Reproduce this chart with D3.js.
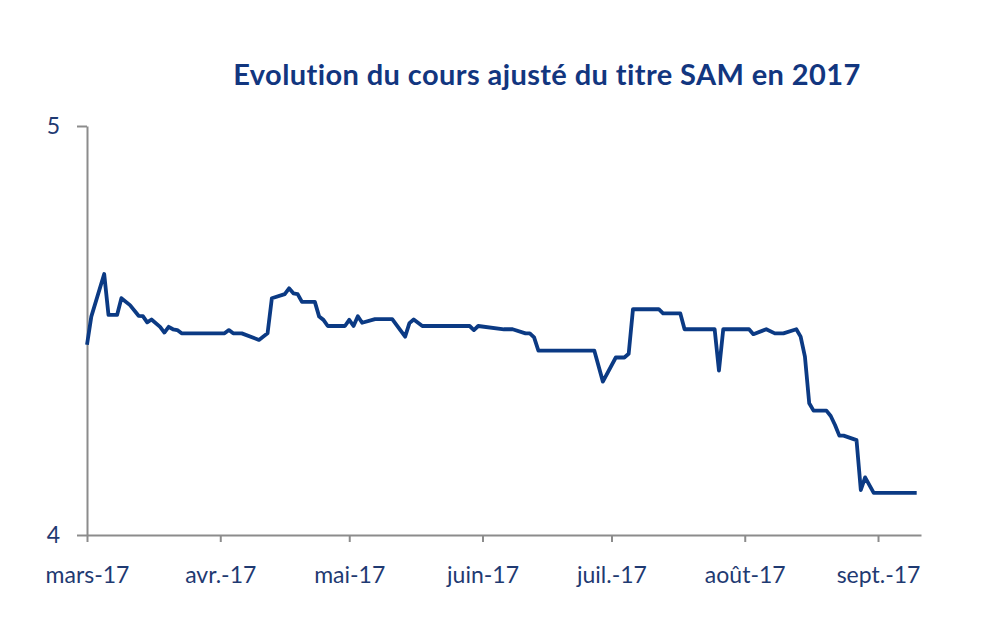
<!DOCTYPE html>
<meta charset="utf-8">
<style>
  body { margin: 0; background: #fff; }
  text { font-family: Lato, "Open Sans", sans-serif; }
</style>
<script src="https://d3js.org/d3.v7.min.js"></script>
<svg id="chart" width="985" height="633"></svg>
<script>
  // Data
  var dates = ["2017-03-01","2017-03-02","2017-03-05","2017-03-06","2017-03-08","2017-03-09","2017-03-11",
    "2017-03-13","2017-03-14","2017-03-15","2017-03-16","2017-03-18","2017-03-19","2017-03-20","2017-03-21",
    "2017-03-22","2017-03-23","2017-04-02","2017-04-03","2017-04-04","2017-04-06","2017-04-10","2017-04-12",
    "2017-04-13","2017-04-16","2017-04-17","2017-04-18","2017-04-19","2017-04-20","2017-04-23","2017-04-24",
    "2017-04-25","2017-04-26","2017-04-30","2017-05-01","2017-05-02","2017-05-03","2017-05-04","2017-05-07",
    "2017-05-11","2017-05-14","2017-05-15","2017-05-16","2017-05-18","2017-05-29","2017-05-30","2017-05-31",
    "2017-06-06","2017-06-08","2017-06-11","2017-06-12","2017-06-13","2017-06-14","2017-06-27","2017-06-29",
    "2017-07-02","2017-07-04","2017-07-05","2017-07-06","2017-07-12","2017-07-13","2017-07-17","2017-07-18",
    "2017-07-25","2017-07-26","2017-07-27","2017-08-02","2017-08-03","2017-08-06","2017-08-08","2017-08-10",
    "2017-08-13","2017-08-14","2017-08-15","2017-08-16","2017-08-17","2017-08-20","2017-08-21","2017-08-22",
    "2017-08-23","2017-08-24","2017-08-27","2017-08-28","2017-08-29","2017-08-31","2017-09-10"];
  var prices = [4.465,4.534,4.638,4.538,4.538,4.579,4.562,
    4.536,4.535,4.520,4.527,4.509,4.495,4.509,4.503,
    4.501,4.493,4.493,4.501,4.493,4.493,4.477,4.493,
    4.579,4.589,4.603,4.591,4.589,4.570,4.570,4.534,
    4.526,4.511,4.511,4.526,4.511,4.535,4.519,4.528,
    4.528,4.485,4.518,4.527,4.511,4.511,4.501,4.511,
    4.503,4.503,4.493,4.493,4.483,4.451,4.451,4.375,
    4.434,4.434,4.443,4.552,4.552,4.542,4.542,4.503,
    4.503,4.402,4.503,4.503,4.491,4.503,4.493,4.493,
    4.503,4.485,4.436,4.322,4.304,4.304,4.291,4.269,
    4.243,4.243,4.232,4.110,4.141,4.103,4.103];
  var monthTicks = ["2017-03-01","2017-04-01","2017-05-01","2017-06-01","2017-07-01","2017-08-01","2017-09-01"];
  var monthLabels = ["mars-17","avr.-17","mai-17","juin-17","juil.-17","août-17","sept.-17"];
  var yTicks = [4, 5];
  var xStart = "2017-03-01", xEnd = "2017-09-11";

  var parse = d3.timeParse("%Y-%m-%d");
  var series = dates.map(function(d, i) { return { date: parse(d), value: prices[i] }; });

  var svg = d3.select("#chart");
  var margin = { left: 87, right: 64, top: 126, bottom: 98 };
  var width = 985 - margin.left - margin.right,
      height = 633 - margin.top - margin.bottom;

  var axisGrey = "#8c8c8c", labelBlue = "#1f3a72", lineBlue = "#0b3a84";

  var x = d3.scaleTime()
    .domain([parse(xStart), parse(xEnd)])
    .range([0, width]);
  var y = d3.scaleLinear()
    .domain([4, 5])
    .range([height, 0]);

  var g = svg.append("g").attr("transform", "translate(" + margin.left + "," + margin.top + ")");

  // Title
  svg.append("text")
    .attr("x", 547)
    .attr("y", 85)
    .attr("text-anchor", "middle")
    .attr("font-size", 29)
    .attr("font-weight", "bold")
    .attr("letter-spacing", 0.4)
    .attr("fill", "#12367f")
    .text("Evolution du cours ajusté du titre SAM en 2017");

  // Y axis
  var yAxis = g.append("g")
    .call(d3.axisLeft(y).tickValues(yTicks).tickFormat(d3.format("d")).tickSize(10).tickSizeOuter(0).tickPadding(17));
  yAxis.select(".domain").attr("stroke", axisGrey).attr("stroke-width", 2);
  yAxis.selectAll(".tick line").attr("stroke", axisGrey).attr("stroke-width", 2);
  yAxis.selectAll(".tick text").attr("font-size", 23).attr("fill", labelBlue)
    .attr("font-family", "Lato, sans-serif");

  // X axis
  var xAxis = g.append("g")
    .attr("transform", "translate(0," + height + ")")
    .call(d3.axisBottom(x)
      .tickValues(monthTicks.map(parse))
      .tickFormat(function(d, i) { return monthLabels[i]; })
      .tickSize(7).tickSizeOuter(0).tickPadding(25));
  xAxis.select(".domain").attr("stroke", axisGrey).attr("stroke-width", 2);
  xAxis.selectAll(".tick line").attr("stroke", axisGrey).attr("stroke-width", 2);
  xAxis.selectAll(".tick text").attr("font-size", 23).attr("fill", labelBlue)
    .attr("font-family", "Lato, sans-serif");

  // Price line
  var line = d3.line()
    .x(function(d) { return x(d.date); })
    .y(function(d) { return y(d.value); });

  g.append("path")
    .datum(series)
    .attr("fill", "none")
    .attr("stroke", lineBlue)
    .attr("stroke-width", 3.8)
    .attr("stroke-linejoin", "round")
    .attr("d", line);
</script>
